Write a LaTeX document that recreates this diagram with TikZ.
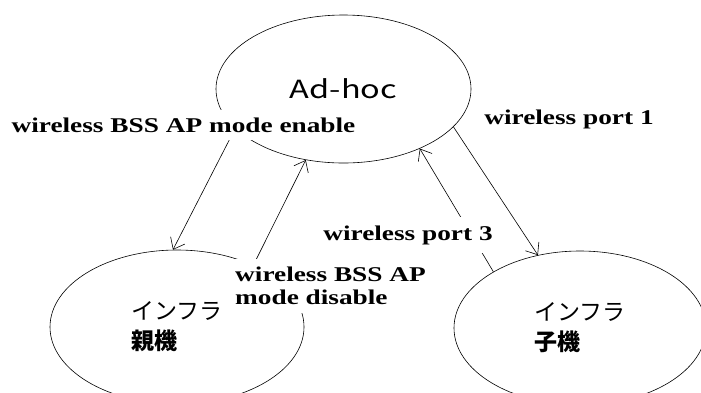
\documentclass[tikz,border=0pt]{standalone}
\usepackage{fontspec}
\usepackage{tikz}
\usetikzlibrary{arrows.meta,shapes.geometric}
\newfontfamily\lblfont[FakeStretch=1.3]{Liberation Serif}
\newfontfamily\jpfont{Noto Sans CJK JP}
\newfontfamily\adfont[FakeStretch=1.3]{Noto Sans CJK JP}
\tikzset{
  etat/.style={draw,ellipse,inner sep=0pt,line width=0.6pt},
  trans/.style={-{Straight Barb[length=10pt,width=16pt]},line width=0.6pt},
  lbl/.style={fill=white,inner xsep=2pt,inner ysep=8pt,
    font=\lblfont\bfseries\fontsize{21}{23}\selectfont}
}

\begin{document}
\begin{tikzpicture}[x=1pt,y=-1pt]
  % --- Cadre (701 x 392) ---
  \fill[white] (0,0) rectangle (701,392);
  \useasboundingbox (0,0) rectangle (701,392);

  % --- Etats ---
  \node[etat,minimum width=255pt,minimum height=148pt,
        font=\adfont\fontsize{25}{27}\selectfont] (adhoc) at (343.5,89) {Ad-hoc};
  \node[etat,minimum width=254pt,minimum height=154pt,align=left,
        font=\jpfont\fontsize{23}{30}\selectfont] (oya) at (177,327) {インフラ\\\bfseries 親機};
  \node[etat,minimum width=252pt,minimum height=154pt,align=left,
        font=\jpfont\fontsize{23}{30}\selectfont] (ko) at (580,328) {インフラ\\\bfseries 子機};

  % --- Transitions ---
  \draw[trans] (adhoc.200) -- (oya.93);
  \draw[trans] (oya.39) -- (adhoc.242);
  \draw[trans] (adhoc.341) -- (ko.120);
  \draw[trans] (ko.147) -- (adhoc.322);

  % --- Etiquettes (fond blanc, par-dessus les traits) ---
  \node[lbl] (enable) at (183.5,125) {wireless BSS AP mode enable};
  \node[lbl] (port1) at (569,119) {wireless port 1};
  \node[lbl] (port3) at (408,235) {wireless port 3};
  \node[lbl,align=left,anchor=west] (disable) at (233,286) {wireless BSS AP\\mode disable};
\end{tikzpicture}
\end{document}
